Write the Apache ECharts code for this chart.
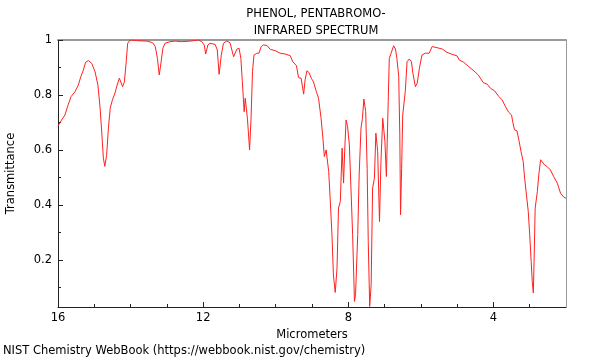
<!DOCTYPE html>
<html>
<head>
<meta charset="utf-8">
<script src="https://cdn.jsdelivr.net/npm/echarts@6/dist/echarts.min.js"></script>
<style>html,body{margin:0;padding:0;background:#fff}#c{width:600px;height:360px}</style>
</head>
<body>
<div id="c"></div>
<script>
const titleLines = ['PHENOL, PENTABROMO-', 'INFRARED SPECTRUM'];
const xName = 'Micrometers';
const yName = 'Transmittance';
const footer = 'NIST Chemistry WebBook (https://webbook.nist.gov/chemistry)';

const wavelength = [
16.00,15.90,15.81,15.72,15.64,15.53,15.44,15.37,15.30,15.24,15.16,15.07,14.98,14.90,14.84,14.79,14.75,14.71,14.66,14.61,
14.56,14.50,14.43,14.37,14.31,14.26,14.22,14.17,14.12,14.08,14.01,13.83,13.74,13.55,13.39,13.32,13.26,13.21,13.17,13.11,
13.05,12.91,12.77,12.59,12.36,12.13,12.04,11.97,11.93,11.87,11.81,11.67,11.61,11.56,11.50,11.44,11.35,11.26,11.16,11.12,
11.07,11.01,10.96,10.92,10.87,10.84,10.81,10.78,10.72,10.68,10.64,10.60,10.52,10.46,10.40,10.34,10.24,10.15,10.01,9.88,
9.74,9.60,9.53,9.43,9.37,9.30,9.23,9.19,9.14,9.08,9.02,8.96,8.88,8.82,8.75,8.70,8.66,8.61,8.59,8.54,
8.50,8.45,8.41,8.36,8.31,8.27,8.22,8.17,8.13,8.10,8.06,8.02,7.97,7.93,7.88,7.83,7.80,7.74,7.70,7.65,
7.61,7.57,7.52,7.48,7.45,7.41,7.37,7.33,7.28,7.24,7.19,7.14,7.10,7.05,7.01,6.99,6.95,6.90,6.87,6.82,
6.75,6.70,6.66,6.61,6.58,6.56,6.53,6.50,6.47,6.43,6.38,6.32,6.26,6.22,6.15,6.10,6.04,5.97,5.88,5.77,
5.69,5.55,5.41,5.28,5.14,5.00,4.94,4.82,4.68,4.54,4.42,4.36,4.28,4.17,4.08,3.97,3.85,3.76,3.67,3.58,
3.50,3.47,3.42,3.35,3.29,3.24,3.18,3.14,3.09,3.04,3.00,2.96,2.93,2.90,2.88,2.85,2.79,2.75,2.70,2.66,
2.59,2.52,2.43,2.34,2.24,2.15,2.06,2.00
];
const transmittance = [
0.687,0.709,0.727,0.764,0.794,0.812,0.836,0.867,0.891,0.919,0.925,0.915,0.885,0.836,0.753,0.655,0.570,0.540,0.580,0.680,
0.753,0.782,0.807,0.836,0.861,0.855,0.830,0.848,0.921,0.988,1.000,0.998,0.997,0.996,0.990,0.976,0.933,0.873,0.909,0.970,
0.988,0.994,0.996,0.994,0.996,1.000,0.994,0.982,0.949,0.982,0.988,0.984,0.964,0.875,0.945,0.988,0.996,0.990,0.939,0.945,
0.967,0.970,0.933,0.848,0.739,0.788,0.788,0.715,0.600,0.715,0.885,0.945,0.952,0.952,0.976,0.982,0.980,0.966,0.961,0.952,
0.949,0.943,0.921,0.907,0.863,0.861,0.803,0.855,0.888,0.881,0.861,0.848,0.812,0.788,0.715,0.643,0.576,0.600,0.594,0.521,
0.424,0.291,0.145,0.081,0.170,0.388,0.412,0.606,0.479,0.594,0.709,0.685,0.618,0.473,0.291,0.048,0.073,0.291,0.509,0.679,
0.715,0.785,0.739,0.533,0.267,0.030,0.109,0.461,0.497,0.661,0.594,0.339,0.558,0.715,0.721,0.630,0.503,0.776,0.933,0.952,
0.979,0.967,0.933,0.867,0.655,0.364,0.533,0.727,0.727,0.812,0.921,0.931,0.921,0.879,0.830,0.843,0.897,0.945,0.952,0.952,
0.976,0.972,0.967,0.955,0.948,0.942,0.927,0.919,0.903,0.888,0.873,0.861,0.845,0.839,0.824,0.815,0.794,0.782,0.758,0.737,
0.727,0.703,0.673,0.669,0.630,0.594,0.558,0.497,0.436,0.376,0.291,0.194,0.121,0.079,0.194,0.388,0.448,0.509,0.564,0.570,
0.545,0.539,0.527,0.503,0.479,0.442,0.428,0.424
];
const xMajorTicks = [4, 8, 12, 16];
const xMinorTicks = [3, 5, 6, 7, 9, 10, 11, 13, 14, 15];
const yMajorTicks = [0.2, 0.4, 0.6, 0.8, 1];
const yMinorTicks = [0.1, 0.3, 0.5, 0.7, 0.9];
const xMin = 2, xMax = 16, yMin = 0.028, yMax = 1;

const FONT = 'DejaVu Sans';
const FS = 11.5;
const axisCol = '#222';
const frameCol = '#999';
const points = wavelength.map((w, i) => [w, transmittance[i]]);

const chart = echarts.init(document.getElementById('c'), null, {renderer: 'canvas'});
const baseX = {type: 'value', min: xMin, max: xMax, inverse: true, splitLine: {show: false}};
const baseY = {type: 'value', min: yMin, max: yMax, splitLine: {show: false}};
chart.setOption({
  animation: false,
  backgroundColor: '#fff',
  title: {
    text: titleLines.join('\n'),
    left: 311, textAlign: 'center', top: 1,
    textStyle: {fontFamily: FONT, fontSize: FS, fontWeight: 'normal', color: '#000', lineHeight: 17}
  },
  grid: {left: 58, right: 34, top: 40, bottom: 53, containLabel: false, outerBoundsMode: 'none'},
  xAxis: [
    Object.assign({}, baseX, {
      position: 'bottom',
      name: xName, nameLocation: 'middle', nameGap: 17,
      nameTextStyle: {fontFamily: FONT, fontSize: FS, color: '#000'},
      axisLine: {show: true, lineStyle: {color: axisCol, width: 1}},
      axisTick: {show: true, inside: true, length: 5, customValues: xMajorTicks, lineStyle: {color: axisCol}},
      axisLabel: {show: true, customValues: xMajorTicks, margin: 5, fontFamily: FONT, fontSize: FS, color: '#000'}
    }),
    Object.assign({}, baseX, {
      position: 'bottom',
      axisLine: {show: false},
      axisTick: {show: true, inside: true, length: 3, customValues: xMinorTicks, lineStyle: {color: axisCol}},
      axisLabel: {show: false}
    }),
    Object.assign({}, baseX, {
      position: 'top',
      axisLine: {show: true, lineStyle: {color: frameCol, width: 2}},
      axisTick: {show: false}, axisLabel: {show: false}
    })
  ],
  yAxis: [
    Object.assign({}, baseY, {
      position: 'left',
      name: yName, nameLocation: 'middle', nameGap: 41, nameRotate: 90,
      nameTextStyle: {fontFamily: FONT, fontSize: FS, color: '#000'},
      axisLine: {show: true, lineStyle: {color: axisCol, width: 1}},
      axisTick: {show: true, inside: true, length: 5, customValues: yMajorTicks, lineStyle: {color: axisCol}},
      axisLabel: {show: true, customValues: yMajorTicks, margin: 6, fontFamily: FONT, fontSize: FS, color: '#000'}
    }),
    Object.assign({}, baseY, {
      position: 'left',
      axisLine: {show: false},
      axisTick: {show: true, inside: true, length: 3, customValues: yMinorTicks, lineStyle: {color: axisCol}},
      axisLabel: {show: false}
    }),
    Object.assign({}, baseY, {
      position: 'right',
      axisLine: {show: true, lineStyle: {color: frameCol, width: 1}},
      axisTick: {show: false}, axisLabel: {show: false}
    })
  ],
  graphic: [{
    type: 'text', left: 3, top: 345,
    style: {text: footer, fontFamily: FONT, fontSize: FS, fill: '#000'}
  }],
  series: [{
    type: 'line', xAxisIndex: 0, yAxisIndex: 0,
    data: points, showSymbol: false, symbol: 'none', smooth: false,
    lineStyle: {color: '#ff2020', width: 1}, clip: true
  }]
});
</script>
</body>
</html>
